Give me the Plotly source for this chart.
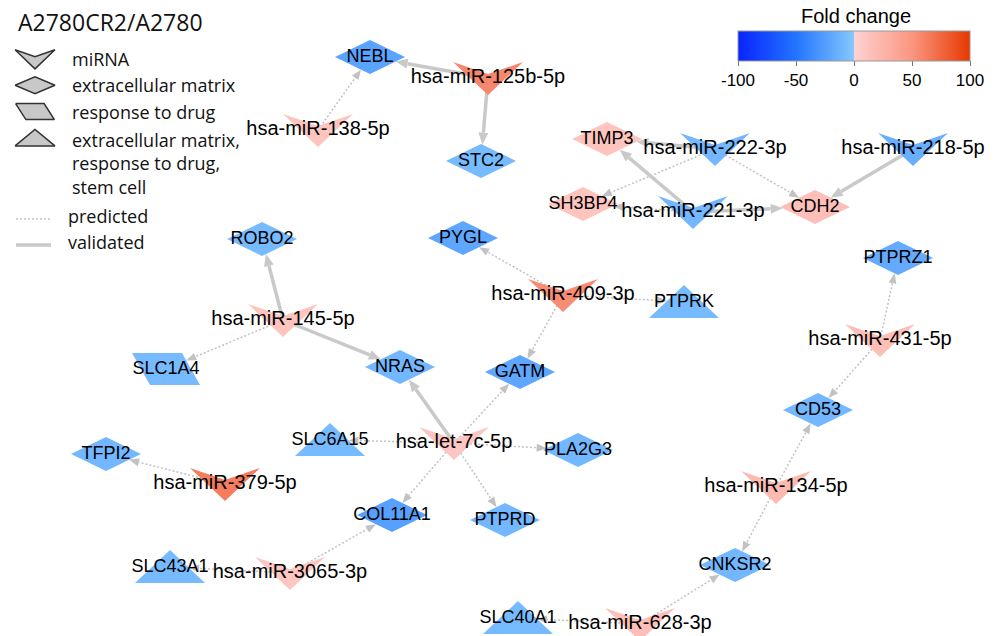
import numpy as np
import plotly.graph_objects as go

W, H = 1001, 636

# ---- network data -------------------------------------------------------
node_name = [
    "hsa-miR-125b-5p", "hsa-miR-138-5p", "hsa-miR-222-3p", "hsa-miR-218-5p",
    "hsa-miR-221-3p", "hsa-miR-409-3p", "hsa-miR-145-5p", "hsa-miR-431-5p",
    "hsa-let-7c-5p", "hsa-miR-379-5p", "hsa-miR-134-5p", "hsa-miR-3065-3p",
    "hsa-miR-628-3p",
    "NEBL", "STC2", "TIMP3", "SH3BP4", "CDH2", "ROBO2", "PYGL", "PTPRK",
    "PTPRZ1", "SLC1A4", "NRAS", "GATM", "CD53", "SLC6A15", "PLA2G3", "TFPI2",
    "COL11A1", "PTPRD", "SLC43A1", "CNKSR2", "SLC40A1",
]
node_x = [
    488, 318, 715, 913, 693, 563, 283, 880, 454, 225, 776, 290, 640,
    370, 481, 607, 583, 815, 262, 463, 684, 898, 166, 400, 520, 818, 330,
    578, 106, 392, 505, 170, 735, 518,
]
node_y = [
    78, 130, 149, 149, 212, 295, 320, 340, 443, 484, 487, 573, 624,
    57, 161, 139, 204, 207, 239, 238, 302, 258, 369, 367, 372, 410, 440,
    450, 454, 515, 520, 567, 565, 618,
]
# mirna / ecm = extracellular matrix / drug = response to drug / all = ecm+drug+stem cell
node_kind = [
    "mirna", "mirna", "mirna", "mirna", "mirna", "mirna", "mirna", "mirna",
    "mirna", "mirna", "mirna", "mirna", "mirna",
    "ecm", "ecm", "ecm", "ecm", "ecm", "ecm", "ecm", "all", "ecm", "drug",
    "ecm", "ecm", "ecm", "all", "ecm", "ecm", "ecm", "ecm", "all", "ecm", "all",
]
node_fc = [
    58, 12, -10, -15, -10, 55, 12, 16, 10, 64, 20, 10, 16,
    -22, -8, 12, 12, 16, -8, -20, -8, -17, -8, -10, -20, -10, -8,
    -10, -10, -24, -10, -8, -10, -8,
]

edge_src = [
    "hsa-miR-125b-5p", "hsa-miR-125b-5p", "hsa-miR-138-5p",
    "hsa-miR-222-3p", "hsa-miR-222-3p", "hsa-miR-222-3p",
    "hsa-miR-221-3p", "hsa-miR-221-3p", "hsa-miR-221-3p", "hsa-miR-218-5p",
    "hsa-miR-145-5p", "hsa-miR-145-5p", "hsa-miR-145-5p",
    "hsa-miR-409-3p", "hsa-miR-409-3p", "hsa-miR-409-3p",
    "hsa-let-7c-5p", "hsa-let-7c-5p", "hsa-let-7c-5p", "hsa-let-7c-5p",
    "hsa-let-7c-5p", "hsa-let-7c-5p",
    "hsa-miR-379-5p", "hsa-miR-431-5p", "hsa-miR-431-5p",
    "hsa-miR-134-5p", "hsa-miR-134-5p",
    "hsa-miR-3065-3p", "hsa-miR-3065-3p", "hsa-miR-628-3p", "hsa-miR-628-3p",
]
edge_dst = [
    "NEBL", "STC2", "NEBL",
    "TIMP3", "SH3BP4", "CDH2",
    "TIMP3", "SH3BP4", "CDH2", "CDH2",
    "ROBO2", "SLC1A4", "NRAS",
    "PYGL", "PTPRK", "GATM",
    "NRAS", "GATM", "PLA2G3", "PTPRD", "COL11A1", "SLC6A15",
    "TFPI2", "PTPRZ1", "CD53",
    "CD53", "CNKSR2",
    "COL11A1", "SLC43A1", "CNKSR2", "SLC40A1",
]
edge_kind = [
    "validated", "validated", "predicted",
    "validated", "predicted", "predicted",
    "validated", "predicted", "validated", "validated",
    "validated", "predicted", "validated",
    "predicted", "predicted", "predicted",
    "validated", "predicted", "predicted", "predicted", "predicted", "predicted",
    "predicted", "predicted", "predicted",
    "predicted", "predicted",
    "predicted", "predicted", "predicted", "predicted",
]

fc_ticks = [-100, -50, 0, 50, 100]
fc_tick_text = ["-100", "-50", "0", "50", "100"]
fc_scale = [
    [0.0, "rgb(8,36,255)"],
    [0.25, "rgb(34,116,255)"],
    [0.4999, "rgb(134,200,255)"],
    [0.5, "rgb(255,210,210)"],
    [0.75, "rgb(250,150,128)"],
    [1.0, "rgb(232,56,0)"],
]

legend_items = ["miRNA", "extracellular matrix", "response to drug",
                "extracellular matrix,<br>response to drug,<br>stem cell"]
legend_kinds = ["mirna", "ecm", "drug", "all"]
legend_edges = ["predicted", "validated"]

# ---- geometry ------------------------------------------------------------
SHAPES = {
    "mirna": [(-35, -16), (0, -4), (35, -16), (0, 17)],
    "ecm": [(-35, 0), (0, -17), (35, 0), (0, 17)],
    "drug": [(-34, -16), (16, -16), (34, 16), (-16, 16)],
    "all": [(-35, 16), (0, -17), (35, 16)],
}


def fc_color(v):
    t = (v - fc_ticks[0]) / (fc_ticks[-1] - fc_ticks[0])
    pos = [p for p, _ in fc_scale]
    rgb = [np.array([float(c) for c in s[4:-1].split(",")]) for _, s in fc_scale]
    for i in range(len(pos) - 1):
        if pos[i] <= t <= pos[i + 1]:
            f = (t - pos[i]) / (pos[i + 1] - pos[i])
            c = rgb[i] + f * (rgb[i + 1] - rgb[i])
            return "rgb(%d,%d,%d)" % tuple(np.round(c))
    return fc_scale[-1][1]


def polygon(kind, cx, cy, sx=1.0, sy=1.0):
    pts = SHAPES[kind]
    xs = [cx + px * sx for px, _ in pts] + [cx + pts[0][0] * sx]
    ys = [cy + py * sy for _, py in pts] + [cy + pts[0][1] * sy]
    return xs, ys


def entry_point(p0, p1, kind):
    """Point where segment p0->p1 first enters the shape centred at p1."""
    xs, ys = polygon(kind, p1[0], p1[1])
    best = 1.0
    d = p1 - p0
    for i in range(len(xs) - 1):
        a = np.array([xs[i], ys[i]])
        b = np.array([xs[i + 1], ys[i + 1]])
        e = b - a
        den = d[0] * e[1] - d[1] * e[0]
        if abs(den) < 1e-9:
            continue
        w = a - p0
        t = (w[0] * e[1] - w[1] * e[0]) / den
        s = (w[0] * d[1] - w[1] * d[0]) / den
        if 0 <= t <= 1 and 0 <= s <= 1:
            best = min(best, t)
    return p0 + best * d


idx = {n: i for i, n in enumerate(node_name)}
fig = go.Figure()

EDGE_STYLE = {
    "validated": dict(color="#c9c9c9", width=3.5, dash="solid", alen=12, awid=10),
    "predicted": dict(color="#c2c2c2", width=1.5, dash="2px,2px", alen=10, awid=8),
}

for kind in ["predicted", "validated"]:
    st = EDGE_STYLE[kind]
    lx, ly, ax, ay = [], [], [], []
    for s, d, k in zip(edge_src, edge_dst, edge_kind):
        if k != kind:
            continue
        p0 = np.array([node_x[idx[s]], node_y[idx[s]]], float)
        p1 = np.array([node_x[idx[d]], node_y[idx[d]]], float)
        tip = entry_point(p0, p1, node_kind[idx[d]])
        u = (p1 - p0) / np.linalg.norm(p1 - p0)
        n = np.array([-u[1], u[0]])
        base = tip - u * st["alen"]
        lx += [p0[0], base[0], None]
        ly += [p0[1], base[1], None]
        c1 = base + n * st["awid"] / 2
        c2 = base - n * st["awid"] / 2
        ax += [tip[0], c1[0], c2[0], tip[0], None]
        ay += [tip[1], c1[1], c2[1], tip[1], None]
    fig.add_trace(go.Scatter(x=lx, y=ly, mode="lines", hoverinfo="skip",
                             line=dict(color=st["color"], width=st["width"], dash=st["dash"])))
    fig.add_trace(go.Scatter(x=ax, y=ay, mode="lines", fill="toself", hoverinfo="skip",
                             fillcolor=st["color"], line=dict(width=0, color=st["color"])))

# nodes
for name, x, y, k, v in zip(node_name, node_x, node_y, node_kind, node_fc):
    xs, ys = polygon(k, x, y)
    col = fc_color(v)
    fig.add_trace(go.Scatter(x=xs, y=ys, mode="lines", fill="toself", fillcolor=col,
                             line=dict(width=0, color=col), hoverinfo="skip"))

# labels
is_mir = [k == "mirna" for k in node_kind]
fig.add_trace(go.Scatter(
    x=[x for x, m in zip(node_x, is_mir) if m], y=[y for y, m in zip(node_y, is_mir) if m],
    text=[t for t, m in zip(node_name, is_mir) if m], mode="text", hoverinfo="skip",
    textfont=dict(family="Liberation Sans, Arial", size=20, color="#000")))
fig.add_trace(go.Scatter(
    x=[x for x, m in zip(node_x, is_mir) if not m], y=[y for y, m in zip(node_y, is_mir) if not m],
    text=[t for t, m in zip(node_name, is_mir) if not m], mode="text", hoverinfo="skip",
    textfont=dict(family="Liberation Sans, Arial", size=18, color="#000")))

# colour bar
fig.add_trace(go.Scatter(
    x=[-50, -50], y=[-50, -50], mode="markers", hoverinfo="skip",
    marker=dict(size=0.1, color=[fc_ticks[0], fc_ticks[-1]], cmin=fc_ticks[0], cmax=fc_ticks[-1],
                colorscale=fc_scale, showscale=True,
                colorbar=dict(orientation="h", lenmode="pixels", len=232,
                              thicknessmode="pixels", thickness=30,
                              x=854 / W, xanchor="center", y=1 - 31 / H, yanchor="top",
                              xpad=0, ypad=0,
                              outlinewidth=1, outlinecolor="#999",
                              tickvals=fc_ticks, ticktext=fc_tick_text,
                              ticks="outside", ticklen=5, tickcolor="#777",
                              tickfont=dict(family="Liberation Sans, Arial", size=17, color="#000")))))

# legend glyphs
ann = []
leg_font = dict(family="Open Sans", size=18, color="#111")
for i, (k, lab) in enumerate(zip(legend_kinds, legend_items)):
    cy = 59 + 26.3 * i
    xs, ys = polygon(k, 35, cy, 0.57, 0.5 if k != "mirna" else 0.58)
    fig.add_trace(go.Scatter(x=xs, y=ys, mode="lines", fill="toself", fillcolor="#c8c8c8",
                             line=dict(width=1.5, color="#333"), hoverinfo="skip"))
    if "<br>" in lab:
        ann.append(dict(x=70, y=cy - 12, text=lab, xanchor="left", yanchor="top", align="left",
                        showarrow=False, font=leg_font))
    else:
        ann.append(dict(x=70, y=cy, text=lab, xanchor="left", yanchor="middle",
                        showarrow=False, font=leg_font))
for j, k in enumerate(legend_edges):
    cy = 216 + 26 * j
    st = EDGE_STYLE[k]
    fig.add_trace(go.Scatter(x=[16, 51], y=[cy + 3, cy + 3], mode="lines", hoverinfo="skip",
                             line=dict(color=st["color"], width=st["width"], dash=st["dash"])))
    ann.append(dict(x=66, y=cy, text=k, xanchor="left", yanchor="middle",
                    showarrow=False, font=leg_font))

ann.append(dict(x=16, y=22, text="A2780CR2/A2780", xanchor="left", yanchor="middle",
                showarrow=False, font=dict(family="Open Sans", size=23, color="#111")))
ann.append(dict(x=856, y=16, text="Fold change", xanchor="center", yanchor="middle",
                showarrow=False, font=dict(family="Liberation Sans, Arial", size=20, color="#000")))

fig.update_layout(
    width=W, height=H, margin=dict(l=0, r=0, t=0, b=0),
    paper_bgcolor="white", plot_bgcolor="white", showlegend=False,
    xaxis=dict(range=[0, W], visible=False, fixedrange=True),
    yaxis=dict(range=[H, 0], visible=False, fixedrange=True),
    annotations=ann,
)
fig.write_html("out.html")
